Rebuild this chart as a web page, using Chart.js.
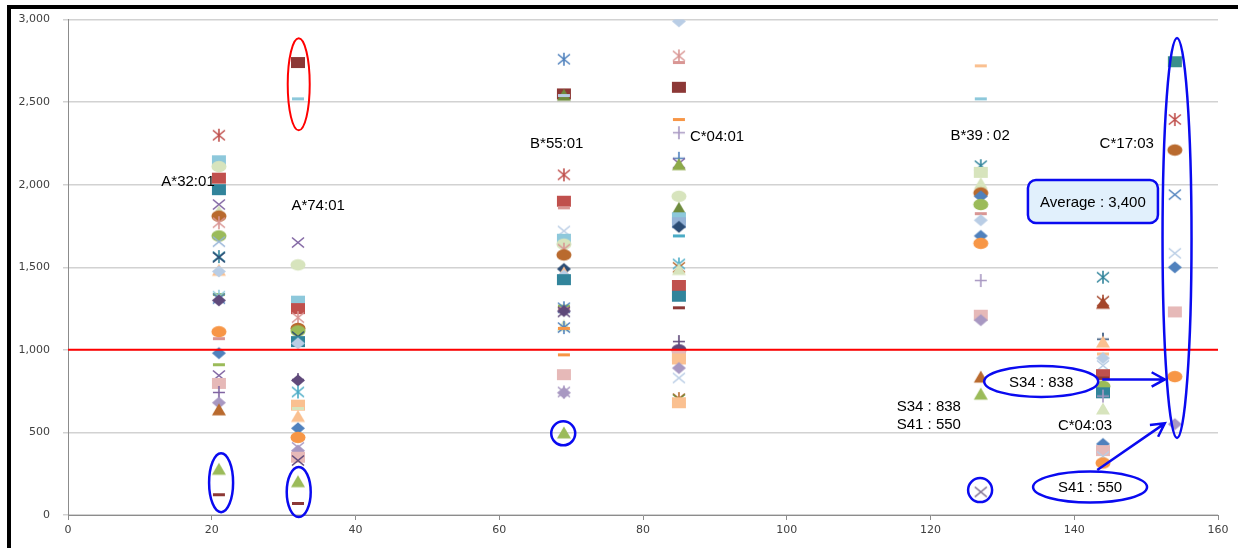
<!DOCTYPE html>
<html>
<head>
<meta charset="utf-8">
<script src="https://cdn.jsdelivr.net/npm/chart.js@4.4.1/dist/chart.umd.min.js"></script>
<style>
  html, body { margin: 0; background: #fff; }
  #chart { display: block; background: #fff; }
</style>
</head>
<body>
<canvas id="chart" width="1238" height="548"></canvas>
<script>
// alleles and where each one sits on the x axis
const alleles = ['A*32:01', 'A*74:01', 'B*55:01', 'C*04:01', 'B*39\u2009:\u200902', 'C*04:03', 'C*17:03'];
const allelePositions = [21, 32, 69, 85, 127, 144, 154];

// measured values per allele column
const a3201Values = [2300, 2145, 2110, 2040, 1970, 1880, 1840, 1810, 1770, 1690, 1655, 1565, 1560, 1485, 1475, 1335, 1325, 1310, 1300, 1110, 1068, 980, 910, 845, 797, 742, 680, 640, 280, 123];
const a7401Values = [2740, 2520, 1650, 1515, 1295, 1250, 1195, 1130, 1115, 1080, 1050, 1040, 820, 815, 745, 665, 645, 600, 525, 470, 410, 390, 350, 330, 205, 70];
const b5501Values = [2760, 2550, 2545, 2540, 2060, 1900, 1860, 1720, 1670, 1640, 1610, 1575, 1490, 1470, 1450, 1425, 1265, 1255, 1250, 1235, 1230, 1150, 1135, 1130, 970, 850, 745, 740, 500];
const c0401Values = [2990, 2780, 2740, 2590, 2395, 2315, 2160, 2130, 2125, 1930, 1860, 1800, 1770, 1745, 1690, 1520, 1500, 1490, 1390, 1325, 1255, 1050, 1000, 965, 945, 890, 830, 705, 700, 680];
const b3902Values = [2720, 2520, 2115, 2075, 2010, 1950, 1930, 1880, 1825, 1785, 1690, 1645, 1420, 1210, 1180, 838, 735, 140];
const c0403Values = [1440, 1295, 1285, 1065, 1050, 975, 950, 905, 850, 830, 780, 740, 720, 645, 430, 390, 355, 315];
const c1703Values = [2745, 2395, 2210, 1940, 1585, 1500, 1230, 838, 550];

const xTicks = [0, 20, 40, 60, 80, 100, 120, 140, 160];
const yTicks = [0, 500, 1000, 1500, 2000, 2500, 3000];
const thresholdValue = 1000;
const averageValue = 3400;
const s34Value = 838;
const s41Value = 550;

// marker shape/colour for every point above, same order
const a3201Marks = ['star/red', 'square/ltaqua', 'circle/ltgreen', 'square/red', 'square/dkaqua', 'x/purple', 'triangle/ltgreen', 'circle/dkorange', 'star/mdred', 'circle/green', 'x/mdblue', 'star/dkaqua', 'x/dkblue', 'triangle/ltorange', 'diamond/ltblue', 'dash/green', 'star/ltaqua', 'x/blue', 'diamond/dkpurple', 'circle/orange', 'dash/mdred', 'diamond/blue', 'dash/green', 'x/purple', 'square/ltred', 'plus/purple', 'diamond/mdpurple', 'triangle/dkorange', 'triangle/green', 'dash/dkred'];
const a7401Marks = ['square/dkred', 'dash/ltaqua', 'x/purple', 'circle/ltgreen', 'square/ltaqua', 'square/red', 'star/mdred', 'circle/dkorange', 'circle/green', 'x/dkblue', 'square/dkaqua', 'diamond/ltblue', 'plus/dkpurple', 'diamond/dkpurple', 'star/aqua', 'square/ltorange', 'dash/ltgreen', 'triangle/ltorange', 'diamond/blue', 'circle/orange', 'x/mdpurple', 'diamond/mdpurple', 'square/ltred', 'x/dkpurple', 'triangle/green', 'dash/dkred'];
const b5501Marks = ['star/blue', 'square/dkred', 'triangle/dkgreen', 'dash/ltblue', 'star/red', 'square/red', 'dash/mdred', 'x/ltblue', 'square/ltaqua', 'circle/ltgreen', 'star/mdred', 'circle/dkorange', 'diamond/dkblue', 'triangle/ltorange', 'diamond/ltblue', 'square/dkaqua', 'dash/green', 'star/blue', 'dash/mdred', 'diamond/dkpurple', 'x/dkpurple', 'triangle/ltgreen', 'star/blue', 'dash/orange', 'dash/orange', 'square/ltred', 'star/mdpurple', 'diamond/mdpurple', 'triangle/green'];
const c0401Marks = ['diamond/ltblue', 'star/mdred', 'dash/mdred', 'square/dkred', 'dash/orange', 'plus/mdpurple', 'plus/blue', 'x/purple', 'triangle/olive', 'circle/ltgreen', 'triangle/dkgreen', 'square/ltaqua', 'square/mdblue', 'diamond/dkblue', 'dash/aqua', 'star/aqua', 'x/dkorange', 'triangle/ltgreen', 'square/red', 'square/dkaqua', 'dash/dkred', 'plus/dkpurple', 'circle/dkpurple', 'square/ltred', 'square/ltorange', 'diamond/mdpurple', 'x/ltblue', 'star/dkorange', 'x/dkgreen', 'square/ltorange'];
const b3902Marks = ['dash/ltorange', 'dash/ltaqua', 'star/dkaqua', 'square/ltgreen', 'triangle/ltgreen', 'circle/dkorange', 'diamond/blue', 'circle/green', 'dash/mdred', 'diamond/ltblue', 'diamond/blue', 'circle/orange', 'plus/mdpurple', 'square/ltred', 'diamond/mdpurple', 'triangle/dkorange', 'triangle/green', 'x/grey'];
const c0403Marks = ['star/dkaqua', 'star/brown', 'triangle/brown', 'plus/dkblue', 'triangle/ltorange', 'dash/ltorange', 'diamond/ltblue', 'x/ltblue', 'square/red', 'dash/dkred', 'circle/green', 'square/dkaqua', 'plus/mdpurple', 'triangle/ltgreen', 'diamond/blue', 'square/ltred', 'x/ltblue', 'circle/orange'];
const c1703Marks = ['square/teal', 'star/red', 'circle/dkorange', 'x/blue', 'x/ltblue', 'diamond/blue', 'square/ltred', 'circle/orange', 'diamond/mdpurple'];

const palette = {
    blue: '#4F81BD', red: '#C0504D', green: '#9BBB59', purple: '#8064A2', aqua: '#4BACC6', orange: '#F79646',
    dkblue: '#2C4D75', dkred: '#8C3836', dkgreen: '#6E8B3D', dkpurple: '#5F497A', dkaqua: '#31849B', dkorange: '#B96A2E',
    ltblue: '#B9CDE5', ltred: '#E6B9B8', ltgreen: '#D7E4BD', ltaqua: '#8DC8DB', ltorange: '#FAC090',
    mdblue: '#95B3D7', mdred: '#D99694', mdpurple: '#A898C2', olive: '#8DAA49', brown: '#A4462B',
    teal: '#3A8F8C', grey: '#7F6F90'
};

const BLUE_INK = '#0A0AF0';

document.addEventListener('DOMContentLoaded', () => {
    initChart();
});

function initChart() {
    const ctx = document.getElementById('chart')?.getContext('2d');
    if (!ctx) return;

    Chart.defaults.font.family = "'DejaVu Sans', sans-serif";

    new Chart(ctx, {
        type: 'scatter',
        data: getChartData(),
        options: getChartOptions(),
        plugins: [annotationPlugin],
    });
}

const markerCache = {};

// small Excel-like marker drawn on its own canvas
function makeMarker(spec) {
    if (markerCache[spec]) return markerCache[spec];
    const [shape, colorName] = spec.split('/');
    const color = palette[colorName];
    const c = document.createElement('canvas');
    c.width = 18;
    c.height = 15;
    const g = c.getContext('2d');
    const cx = 9, cy = 7.5;
    g.fillStyle = color;
    g.strokeStyle = color;
    g.lineWidth = 1.6;
    g.beginPath();
    switch (shape) {
        case 'diamond':
            g.moveTo(cx, cy - 6); g.lineTo(cx + 7, cy); g.lineTo(cx, cy + 6); g.lineTo(cx - 7, cy);
            g.closePath(); g.fill();
            break;
        case 'square':
            g.fillRect(cx - 7, cy - 5.5, 14, 11);
            break;
        case 'triangle':
            g.moveTo(cx, cy - 6); g.lineTo(cx + 7, cy + 6); g.lineTo(cx - 7, cy + 6);
            g.closePath(); g.fill();
            break;
        case 'circle':
            g.ellipse(cx, cy, 7.5, 5.8, 0, 0, Math.PI * 2); g.fill();
            break;
        case 'x':
            g.moveTo(cx - 6, cy - 5); g.lineTo(cx + 6, cy + 5);
            g.moveTo(cx + 6, cy - 5); g.lineTo(cx - 6, cy + 5); g.stroke();
            break;
        case 'star':
            g.moveTo(cx - 6, cy - 5); g.lineTo(cx + 6, cy + 5);
            g.moveTo(cx + 6, cy - 5); g.lineTo(cx - 6, cy + 5);
            g.moveTo(cx, cy - 6.5); g.lineTo(cx, cy + 6.5); g.stroke();
            break;
        case 'plus':
            g.moveTo(cx - 6, cy); g.lineTo(cx + 6, cy);
            g.moveTo(cx, cy - 6.5); g.lineTo(cx, cy + 6.5); g.stroke();
            break;
        case 'dash':
            g.fillRect(cx - 6, cy - 1.5, 12, 3);
            break;
    }
    markerCache[spec] = c;
    return c;
}

function columnDataset(index, values, marks) {
    const x = allelePositions[index];
    return {
        label: alleles[index],
        data: values.map(v => ({ x: x, y: v })),
        pointStyle: marks.map(makeMarker),
        pointRadius: 7,
        showLine: false,
    };
}

function getChartData() {
    const columns = [
        [a3201Values, a3201Marks], [a7401Values, a7401Marks], [b5501Values, b5501Marks],
        [c0401Values, c0401Marks], [b3902Values, b3902Marks], [c0403Values, c0403Marks],
        [c1703Values, c1703Marks],
    ];
    const threshold = {
        type: 'line',
        label: 'threshold',
        data: [{ x: xTicks[0], y: thresholdValue }, { x: xTicks[xTicks.length - 1], y: thresholdValue }],
        borderColor: '#FF0000',
        borderWidth: 2,
        pointRadius: 0,
        order: -1,
    };
    return {
        datasets: [threshold].concat(columns.map((c, i) => columnDataset(i, c[0], c[1]))),
    };
}

function getChartOptions() {
    return {
        responsive: false,
        animation: false,
        events: [],
        layout: { padding: { left: 8, top: 18, right: 20, bottom: 0 } },
        plugins: {
            legend: { display: false },
            tooltip: { enabled: false },
        },
        scales: {
            x: {
                type: 'linear',
                min: xTicks[0],
                max: xTicks[xTicks.length - 1],
                afterBuildTicks: s => { s.ticks = xTicks.map(v => ({ value: v })); },
                afterFit: s => { s.height = 33; },
                ticks: { color: '#404040', font: { size: 11 }, padding: 4, maxRotation: 0 },
                grid: { drawOnChartArea: false, tickLength: 5, color: '#8C8C8C' },
                border: { color: '#8C8C8C' },
            },
            y: {
                min: yTicks[0],
                max: yTicks[yTicks.length - 1],
                afterBuildTicks: s => { s.ticks = yTicks.map(v => ({ value: v })); },
                afterFit: s => { s.width = 60; },
                ticks: {
                    color: '#404040',
                    font: { size: 11 },
                    padding: 13,
                    callback: v => v.toLocaleString('en-US'),
                },
                grid: { color: '#D2D2D2', lineWidth: 1.5, tickLength: 5 },
                border: { color: '#8C8C8C' },
            },
        },
    };
}

// callouts: allele names, circled points, average box, arrows
const annotationPlugin = {
    id: 'callouts',
    afterDraw(chart) {
        const ctx = chart.ctx;
        const xs = chart.scales.x, ys = chart.scales.y;
        const px = v => xs.getPixelForValue(v);
        const py = v => ys.getPixelForValue(v);

        ctx.save();

        // frame edge on the left and top
        ctx.fillStyle = '#000';
        ctx.fillRect(7, 5, 4, 543);
        ctx.fillRect(7, 5, 1231, 4);

        ctx.fillStyle = '#000';
        ctx.font = "15px 'Liberation Sans', Arial, sans-serif";
        ctx.textBaseline = 'middle';
        ctx.textAlign = 'center';
        const nameSpots = [[16.7, 2016], [34.8, 1871], [68.0, 2245], [90.3, 2287], [126.9, 2293], [141.5, 537], [147.3, 2245]];
        const order = [0, 1, 2, 3, 4, 5, 6];
        order.forEach(i => {
            ctx.fillText(alleles[i], px(nameSpots[i][0]), py(nameSpots[i][1]));
        });

        ctx.textAlign = 'left';
        ctx.fillText('S34 : ' + s34Value, px(115.3), py(652));
        ctx.fillText('S41 : ' + s41Value, px(115.3), py(543));

        const ellipse = (x, y, rx, ry, color) => {
            ctx.beginPath();
            ctx.ellipse(px(x), py(y), rx, ry, 0, 0, Math.PI * 2);
            ctx.strokeStyle = color;
            ctx.lineWidth = color === '#FF0000' ? 2 : 2.5;
            ctx.stroke();
        };

        ellipse(32.1, 2608, 11, 46, '#FF0000');
        ellipse(21.3, 196, 12, 29.5, BLUE_INK);
        ellipse(32.1, 139, 12, 25, BLUE_INK);
        ellipse(68.9, 495, 12, 12, BLUE_INK);
        ellipse(126.9, 151, 12, 12, BLUE_INK);
        ellipse(154.3, 1678, 14.5, 200, BLUE_INK);

        // labelled ovals for the two highlighted samples
        ctx.fillStyle = '#fff';
        [[135.4, 809, 's34'], [142.2, 169, 's41']].forEach(([x, y, key]) => {
            ctx.beginPath();
            ctx.ellipse(px(x), py(y), 57, 15.5, 0, 0, Math.PI * 2);
            ctx.fillStyle = '#fff';
            ctx.fill();
            ctx.strokeStyle = BLUE_INK;
            ctx.lineWidth = 2.5;
            ctx.stroke();
            ctx.fillStyle = '#000';
            ctx.textAlign = 'center';
            const txt = key === 's34' ? 'S34 : ' + s34Value : 'S41 : ' + s41Value;
            ctx.fillText(txt, px(x), py(y) + 1);
        });

        const arrow = (x1, y1, x2, y2) => {
            const ax = px(x1), ay = py(y1), bx = px(x2), by = py(y2);
            const ang = Math.atan2(by - ay, bx - ax);
            ctx.strokeStyle = BLUE_INK;
            ctx.lineWidth = 2.5;
            ctx.beginPath();
            ctx.moveTo(ax, ay);
            ctx.lineTo(bx, by);
            ctx.moveTo(bx - 15 * Math.cos(ang - 0.5), by - 15 * Math.sin(ang - 0.5));
            ctx.lineTo(bx, by);
            ctx.lineTo(bx - 15 * Math.cos(ang + 0.5), by - 15 * Math.sin(ang + 0.5));
            ctx.stroke();
        };
        arrow(143.9, 821, 152.6, 821);
        arrow(143.2, 272, 152.6, 555);

        // average box
        const bx = px(142.6), by = py(1898);
        ctx.beginPath();
        ctx.roundRect(bx - 65, by - 21.5, 130, 43, 8);
        ctx.fillStyle = '#E1F0FC';
        ctx.fill();
        ctx.strokeStyle = BLUE_INK;
        ctx.lineWidth = 2.5;
        ctx.stroke();
        ctx.fillStyle = '#000';
        ctx.textAlign = 'center';
        ctx.fillText('Average : ' + averageValue.toLocaleString('en-US'), bx, by + 1);

        ctx.restore();
    },
};
</script>
</body>
</html>
